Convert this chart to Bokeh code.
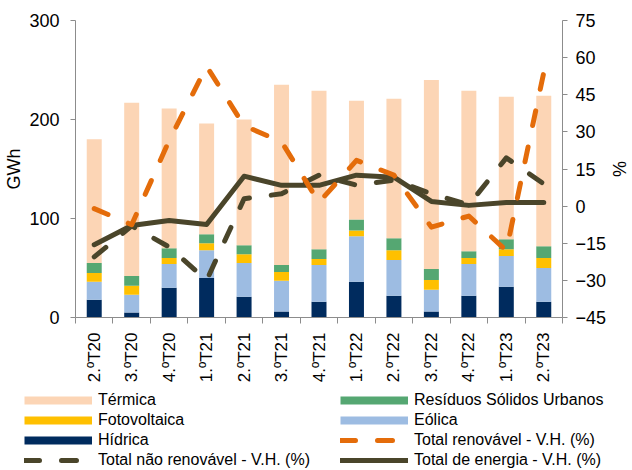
import math
from bokeh.plotting import figure
from bokeh.layouts import column
from bokeh.models import (Range1d, LinearAxis, FixedTicker, Legend, LegendItem,
                          ColumnDataSource)
from bokeh.embed import file_html
from bokeh.resources import INLINE

categories = ["2.ºT20", "3.ºT20", "4.ºT20", "1.ºT21", "2.ºT21", "3.ºT21", "4.ºT21",
              "1.ºT22", "2.ºT22", "3.ºT22", "4.ºT22", "1.ºT23", "2.ºT23"]
hidrica = [18, 5, 30, 40, 21, 6, 16, 36, 22, 6, 22, 31, 16]
eolica = [18, 18, 24, 28, 34, 31, 37, 46, 36, 22, 32, 31, 34]
fotovoltaica = [9, 9, 6, 7, 9, 9, 6, 6, 10, 10, 6, 7, 10]
rsu = [10, 10, 10, 9, 9, 7, 10, 11, 12, 11, 7, 10, 12]
termica = [125, 175, 141, 112, 127, 182, 160, 120, 141, 191, 162, 144, 152]

renovavel_vh = [-1, -7.5, 26.5, 56.5, 32.5, 26, 1.5, 18.5, 12.5, -8.5, -4, -18, 54]
nao_renovavel_vh = [-20.5, -8, -16.5, -30, 3, 5, 12.5, 8.5, 10.5, 5, 0.5, 19.5, 9]
total_vh = [-15.6, -7.8, -5.8, -7.4, 12.1, 8.4, 8.4, 12.5, 11.7, 1.9, 0.3, 1.5, 1.5]

left_ticks = [0, 100, 200, 300]
right_ticks = [-45, -30, -15, 0, 15, 30, 45, 60, 75]

FONT = "Liberation Sans"
AXIS_GREY = "#8C8C8C"
C_TERM = "#FCD5B5"
C_RSU = "#55A772"
C_FOTO = "#FFC000"
C_EOL = "#9DBCE2"
C_HID = "#002B5E"
C_REN = "#E46C0A"
C_DARK = "#4A452A"
DASH = "15 22"

n = len(categories)
xs = list(range(n))
source = ColumnDataSource(dict(x=xs, hidrica=hidrica, eolica=eolica,
                               fotovoltaica=fotovoltaica, rsu=rsu, termica=termica,
                               ren=renovavel_vh, nren=nao_renovavel_vh, tot=total_vh))

p = figure(width=632, height=385, output_backend="svg", toolbar_location=None,
           x_range=Range1d(-0.5, n - 0.5), y_range=Range1d(0, 300),
           min_border_left=75, min_border_right=64, min_border_top=20,
           min_border_bottom=66)
p.frame_align = False
p.extra_y_ranges = {"pct": Range1d(-45, 75)}
p.outline_line_color = None
p.grid.visible = False

# bars
p.vbar_stack(["hidrica", "eolica", "fotovoltaica", "rsu", "termica"], x="x",
             width=0.4, color=[C_HID, C_EOL, C_FOTO, C_RSU, C_TERM],
             line_color=None, source=source)

p.line("x", "tot", source=source, y_range_name="pct", line_color=C_DARK,
       line_width=5, line_join="round", line_cap="round")
p.line("x", "nren", source=source, y_range_name="pct", line_color=C_DARK,
       line_width=5, line_dash=DASH, line_join="round", line_cap="round")
p.line("x", "ren", source=source, y_range_name="pct", line_color=C_REN,
       line_width=5, line_dash=DASH, line_join="round", line_cap="round")

# x axis
xa = p.xaxis[0]
xa.ticker = FixedTicker(ticks=xs, minor_ticks=[i - 0.5 for i in range(n + 1)])
xa.major_label_overrides = {i: c for i, c in enumerate(categories)}
xa.major_label_orientation = math.pi / 2
xa.major_tick_line_color = None
xa.major_tick_out = 0
xa.major_tick_in = 0
xa.minor_tick_line_color = AXIS_GREY
xa.minor_tick_out = 6
xa.minor_tick_in = 0
xa.axis_line_color = AXIS_GREY
xa.major_label_standoff = 9
xa.major_label_text_font = FONT
xa.major_label_text_font_size = "17px"
xa.major_label_text_color = "black"

# left axis
ya = p.yaxis[0]
ya.ticker = FixedTicker(ticks=left_ticks)
ya.axis_label = "GWh"
ya.axis_label_text_font = FONT
ya.axis_label_text_font_size = "18px"
ya.axis_label_text_font_style = "normal"
ya.axis_label_text_color = "black"
ya.axis_label_standoff = 2
ya.major_label_text_font = FONT
ya.major_label_text_font_size = "18px"
ya.major_label_text_color = "black"
ya.major_label_standoff = 11
ya.major_tick_out = 5
ya.major_tick_in = 0
ya.minor_tick_line_color = None
ya.axis_line_color = AXIS_GREY
ya.major_tick_line_color = AXIS_GREY

# right axis
ra = LinearAxis(y_range_name="pct", ticker=FixedTicker(ticks=right_ticks))
ra.axis_label = "%"
ra.axis_label_text_font = FONT
ra.axis_label_text_font_size = "18px"
ra.axis_label_text_font_style = "normal"
ra.axis_label_text_color = "black"
ra.axis_label_standoff = 0
ra.major_label_text_font = FONT
ra.major_label_text_font_size = "18px"
ra.major_label_text_color = "black"
ra.major_label_standoff = 8
ra.major_tick_out = 5
ra.major_tick_in = 0
ra.minor_tick_line_color = None
ra.axis_line_color = AXIS_GREY
ra.major_tick_line_color = AXIS_GREY
p.add_layout(ra, "right")

# legend figure (below the chart); its ranges keep the series out of view,
# so only the legend swatches are drawn
lg = figure(width=632, height=85, output_backend="svg", toolbar_location=None,
            x_range=Range1d(1000, 1001), y_range=Range1d(1000, 1001),
            x_axis_type=None, y_axis_type=None, min_border=0,
            min_border_left=0, min_border_right=0, min_border_top=0,
            min_border_bottom=0)
lg.frame_align = False
lg.outline_line_color = None
lg.grid.visible = False


def swatch(col, color):
    return lg.line(x="x", y=col, source=source, line_color=color, line_width=8,
                   line_cap="butt")


def series_swatch(col, color, dashed):
    kw = dict(line_color=color, line_width=5, line_cap="round")
    if dashed:
        kw["line_dash"] = DASH
    return lg.line(x="x", y=col, source=source, **kw)


items = [
    LegendItem(label="Térmica", renderers=[swatch("termica", C_TERM)]),
    LegendItem(label="Resíduos Sólidos Urbanos", renderers=[swatch("rsu", C_RSU)]),
    LegendItem(label="Fotovoltaica", renderers=[swatch("fotovoltaica", C_FOTO)]),
    LegendItem(label="Eólica", renderers=[swatch("eolica", C_EOL)]),
    LegendItem(label="Hídrica", renderers=[swatch("hidrica", C_HID)]),
    LegendItem(label="Total renovável - V.H. (%)",
               renderers=[series_swatch("ren", C_REN, True)]),
    LegendItem(label="Total não renovável - V.H. (%)",
               renderers=[series_swatch("nren", C_DARK, True)]),
    LegendItem(label="Total de energia - V.H. (%)",
               renderers=[series_swatch("tot", C_DARK, False)]),
]
legend = Legend(items=items, orientation="horizontal", ncols=2,
                location=(24, 0), glyph_width=68, glyph_height=20,
                label_height=20, label_width=242, label_standoff=6, spacing=0,
                padding=0, margin=0, border_line_color=None,
                background_fill_alpha=0, label_text_font=FONT,
                label_text_font_size="16px", label_text_color="black")
lg.add_layout(legend)

layout = column(p, lg, spacing=0)
open("out.html", "w").write(file_html(layout, INLINE))
